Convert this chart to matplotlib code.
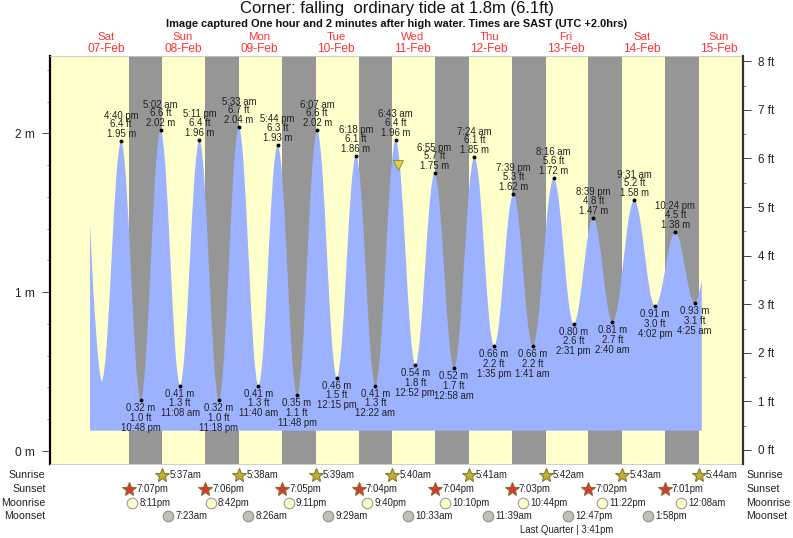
import matplotlib
matplotlib.use("Agg")
import matplotlib.pyplot as plt
from matplotlib.patches import PathPatch
from matplotlib.path import Path
from matplotlib.transforms import blended_transform_factory

plt.rcParams['font.family'] = ['Liberation Sans', 'DejaVu Sans']

W, H = 793, 538
TITLE = "Corner: falling  ordinary tide at 1.8m (6.1ft)"
SUBTITLE = "Image captured One hour and 2 minutes after high water. Times are SAST (UTC +2.0hrs)"
day_names = ["Sat", "Sun", "Mon", "Tue", "Wed", "Thu", "Fri", "Sat", "Sun"]
day_dates = ["07-Feb", "08-Feb", "09-Feb", "10-Feb", "11-Feb", "12-Feb", "13-Feb", "14-Feb", "15-Feb"]

# hours since midnight on 07-Feb, height in metres
curve_hours = [6.9, 7.9, 8.7, 9.5, 10.0, 10.56,
    12.09, 13.62, 15.14, 16.67, 18.2, 19.74, 21.27, 22.8, 24.36, 25.92, 27.47, 29.03,
    30.56, 32.08, 33.61, 35.13, 36.64, 38.16, 39.67, 41.18, 42.71, 44.24, 45.77, 47.3,
    48.86, 50.43, 51.99, 53.55, 55.08, 56.61, 58.14, 59.67, 61.19, 62.7, 64.22, 65.73,
    67.25, 68.77, 70.28, 71.8, 73.38, 74.96, 76.54, 78.12, 79.65, 81.19, 82.72, 84.25,
    85.76, 87.28, 88.79, 90.3, 91.82, 93.34, 94.85, 96.37, 97.96, 99.55, 101.13, 102.72,
    104.26, 105.8, 107.33, 108.87, 110.38, 111.9, 113.41, 114.92, 116.43, 117.95, 119.46, 120.97,
    122.58, 124.19, 125.79, 127.4, 128.95, 130.49, 132.04, 133.58, 135.1, 136.62, 138.13, 139.65,
    141.16, 142.67, 144.17, 145.68, 147.33, 148.98, 150.62, 152.27, 153.83, 155.4, 156.96, 158.52,
    160.05, 161.59, 163.12, 164.65, 166.16, 167.66, 169.17, 170.67, 172.38, 174.1, 175.81, 177.52,
    179.15, 180.78, 182.4, 184.03, 185.62, 187.22, 188.81, 190.4, 191.9, 193.41, 194.92, 196.42,
    197.0, 197.9, 198.7]
curve_m = [1.43, 1.03, 0.78, 0.58, 0.49, 0.44,
    0.66, 1.195, 1.73, 1.95, 1.71, 1.135, 0.56, 0.32, 0.57, 1.17, 1.77, 2.02,
    1.785, 1.215, 0.645, 0.41, 0.64, 1.185, 1.73, 1.96, 1.72, 1.14, 0.56, 0.32,
    0.57, 1.18, 1.79, 2.04, 1.80, 1.225, 0.65, 0.41, 0.63, 1.17, 1.71, 1.93,
    1.70, 1.14, 0.58, 0.35, 0.59, 1.185, 1.78, 2.02, 1.79, 1.24, 0.69, 0.46,
    0.66, 1.16, 1.66, 1.86, 1.65, 1.135, 0.62, 0.41, 0.64, 1.185, 1.73, 1.96,
    1.75, 1.25, 0.75, 0.54, 0.72, 1.145, 1.57, 1.75, 1.57, 1.135, 0.70, 0.52,
    0.71, 1.185, 1.66, 1.85, 1.68, 1.255, 0.83, 0.66, 0.80, 1.14, 1.48, 1.62,
    1.48, 1.14, 0.80, 0.66, 0.815, 1.19, 1.565, 1.72, 1.585, 1.26, 0.935, 0.80,
    0.90, 1.135, 1.37, 1.47, 1.37, 1.14, 0.91, 0.81, 0.92, 1.195, 1.47, 1.58,
    1.48, 1.245, 1.01, 0.91, 0.98, 1.145, 1.31, 1.38, 1.31, 1.155, 1.00, 0.93,
    0.94, 1.00, 1.07]
base_level_m = 0.128

high_hours = [16.67, 29.03, 41.18, 53.55, 65.73, 78.12, 90.3, 102.72, 114.92, 127.4, 139.65, 152.27, 164.65, 177.52, 190.4]
high_m = [1.95, 2.02, 1.96, 2.04, 1.93, 2.02, 1.86, 1.96, 1.75, 1.85, 1.62, 1.72, 1.47, 1.58, 1.38]
high_ft = ["6.4", "6.6", "6.4", "6.7", "6.3", "6.6", "6.1", "6.4", "5.7", "6.1", "5.3", "5.6", "4.8", "5.2", "4.5"]
high_times = ["4:40 pm", "5:02 am", "5:11 pm", "5:33 am", "5:44 pm", "6:07 am", "6:18 pm", "6:43 am",
              "6:55 pm", "7:24 am", "7:39 pm", "8:16 am", "8:39 pm", "9:31 am", "10:24 pm"]

low_hours = [22.8, 35.13, 47.3, 59.67, 71.8, 84.25, 96.37, 108.87, 120.97, 133.58, 145.68, 158.52, 170.67, 184.03, 196.42]
low_m = [0.32, 0.41, 0.32, 0.41, 0.35, 0.46, 0.41, 0.54, 0.52, 0.66, 0.66, 0.80, 0.81, 0.91, 0.93]
low_ft = ["1.0", "1.3", "1.0", "1.3", "1.1", "1.5", "1.3", "1.8", "1.7", "2.2", "2.2", "2.6", "2.7", "3.0", "3.1"]
low_times = ["10:48 pm", "11:08 am", "11:18 pm", "11:40 am", "11:48 pm", "12:15 pm", "12:22 am", "12:52 pm",
             "12:58 am", "1:35 pm", "1:41 am", "2:31 pm", "2:40 am", "4:02 pm", "4:25 am"]

sunrise_hours = [29.62, 53.63, 77.65, 101.67, 125.68, 149.7, 173.72, 197.73]
sunrise_labels = ["5:37am", "5:38am", "5:39am", "5:40am", "5:41am", "5:42am", "5:43am", "5:44am"]
sunset_hours = [19.12, 43.1, 67.08, 91.07, 115.07, 139.05, 163.03, 187.02]
sunset_labels = ["7:07pm", "7:06pm", "7:05pm", "7:04pm", "7:04pm", "7:03pm", "7:02pm", "7:01pm"]
moonrise_hours = [20.18, 44.7, 69.18, 93.67, 118.17, 142.73, 167.37, 192.13]
moonrise_labels = ["8:11pm", "8:42pm", "9:11pm", "9:40pm", "10:10pm", "10:44pm", "11:22pm", "12:08am"]
moonset_hours = [31.38, 56.43, 81.48, 106.55, 131.65, 156.78, 181.97]
moonset_labels = ["7:23am", "8:26am", "9:29am", "10:33am", "11:39am", "12:47pm", "1:58pm"]
now_hours, now_m = 103.6, 1.80

YELLOW, GRAY, BLUE = "#FFFFCC", "#969696", "#9DB2FF"
TXT = "#222222"
# pixel frame of the plot
L, R, T, B = 49.5, 743.0, 56.0, 464.0
fig = plt.figure(figsize=(W / 100, H / 100), dpi=100, facecolor="white")
ax = fig.add_axes([L / W, 1 - B / H, (R - L) / W, (B - T) / H])
ax.set_facecolor(YELLOW)
ax.set_xlim((L - 68.0) / 3.19, (R - 68.0) / 3.19)
ax.set_ylim((451 - B) / 158.8, (451 - T) / 158.8)

for s, e in zip(sunset_hours, sunrise_hours):
    ax.axvspan(s, e, color=GRAY, lw=0, zorder=1)


def smooth_fill_path(ts, hs, base):
    """Bezier outline through the read points, flat at each turning point."""
    n = len(ts)
    slopes = []
    for i in range(n):
        a, b = max(i - 1, 0), min(i + 1, n - 1)
        m = (hs[b] - hs[a]) / (ts[b] - ts[a])
        if 0 < i < n - 1 and (hs[i] - hs[a]) * (hs[b] - hs[i]) <= 0:
            m = 0.0
        slopes.append(m)
    verts = [(ts[0], base), (ts[0], hs[0])]
    codes = [Path.MOVETO, Path.LINETO]
    for i in range(n - 1):
        d = (ts[i + 1] - ts[i]) / 3
        verts += [(ts[i] + d, hs[i] + slopes[i] * d),
                  (ts[i + 1] - d, hs[i + 1] - slopes[i + 1] * d),
                  (ts[i + 1], hs[i + 1])]
        codes += [Path.CURVE4] * 3
    verts += [(ts[-1], base), (ts[0], base)]
    codes += [Path.LINETO, Path.CLOSEPOLY]
    return Path(verts, codes)


ax.add_patch(PathPatch(smooth_fill_path(curve_hours, curve_m, base_level_m), fc=BLUE, lw=0, zorder=2))

ax.plot(high_hours, high_m, "o", color="black", ms=2.8, mew=0, zorder=4)
ax.plot(low_hours, low_m, "o", color="black", ms=2.8, mew=0, zorder=4)
ax.plot([now_hours], [now_m], "v", color="#DDD24A", mec="#8C8430", mew=0.6, ms=7, zorder=4)

LAB = 6.9
def lab(x, y, s, dy):
    ax.annotate(s, (x, y), xytext=(0, dy * 0.72), textcoords="offset points", ha="center",
                va="center", fontsize=LAB, color=TXT, zorder=5, annotation_clip=False)

for x, y, f, t in zip(high_hours, high_m, high_ft, high_times):
    lab(x, y, f"{y:.2f} m", 7)
    lab(x, y, f"{f} ft", 17)
    lab(x, y, t, 25.5)
for x, y, f, t in zip(low_hours, low_m, low_ft, low_times):
    lab(x, y, f"{y:.2f} m", -8)
    lab(x, y, f"{f} ft", -17.5)
    lab(x, y, t, -27.5)

# left axis
ax.set_xticks([])
ax.set_yticks([0, 1, 2])
ax.set_yticklabels(["0 m", "1 m", "2 m"], fontsize=8.6, color=TXT)
ax.set_yticks([v / 5 for v in range(0, 13)], minor=True)
ax.tick_params(axis="y", which="major", length=5.5, width=0.7, color="#444444", pad=5)
ax.tick_params(axis="y", which="minor", length=2.5, width=0.6, color="#666666")
ax.spines["left"].set_linewidth(1.6)
ax.spines["left"].set_color("black")
for k in ("top", "bottom"):
    ax.spines[k].set_color("#C8C8C0")
    ax.spines[k].set_linewidth(0.6)
ax.spines["right"].set_visible(False)

# right axis, feet
axr = ax.twinx()
axr.set_ylim((450 - B) / 48.6, (450 - T) / 48.6)
axr.set_yticks(range(0, 9))
axr.set_yticklabels([f"{i} ft" for i in range(0, 9)], fontsize=8.4, color=TXT)
axr.set_yticks([i + 0.5 for i in range(0, 8)], minor=True)
axr.tick_params(axis="y", which="major", length=5.5, width=0.7, color="#444444", pad=5)
axr.tick_params(axis="y", which="minor", length=2.5, width=0.6, color="#666666")
for k in ("left", "top", "bottom"):
    axr.spines[k].set_visible(False)
axr.spines["right"].set_linewidth(1.6)
axr.spines["right"].set_color("#333333")

def ftext(px, py, s, **kw):
    fig.text(px / W, 1 - py / H, s, va="center", **kw)

ftext(396.5, 8, TITLE, ha="center", fontsize=12, color="#111111")
ftext(396.5, 24, SUBTITLE, ha="center", fontsize=7.9, fontweight="bold", color="#111111")

tr = blended_transform_factory(ax.transData, fig.transFigure)
for i, (n, d) in enumerate(zip(day_names, day_dates)):
    x = 12 + 24 * i
    fig.text(x, 1 - 36.5 / H, n, transform=tr, ha="center", va="center", fontsize=8.2, color="#FF3333")
    fig.text(x, 1 - 48.5 / H, d, transform=tr, ha="center", va="center", fontsize=8.6, color="#FF3333")

rows = [("Sunrise", 474.5, sunrise_hours, sunrise_labels, "*", "#BDB030", "#8A7A30", 10.5),
        ("Sunset", 488.5, sunset_hours, sunset_labels, "*", "#D8392B", "#8A6A30", 10.5),
        ("Moonrise", 502.5, moonrise_hours, moonrise_labels, "o", "#FFFFCC", "#999999", 7.6),
        ("Moonset", 516, moonset_hours, moonset_labels, "o", "#C4C0B6", "#8E8E8E", 7.6)]
for name, py, hours, labels, m, fc, ec, ms in rows:
    ftext(45.5, py, name, ha="right", fontsize=7.7, color=TXT)
    ftext(746.5, py, name, ha="left", fontsize=7.7, color=TXT)
    y = 1 - py / H
    ax.plot(hours, [y] * len(hours), m, transform=tr, mfc=fc, mec=ec, mew=0.8, ms=ms,
            clip_on=False, zorder=6, ls="none")
    for x, s in zip(hours, labels):
        ax.annotate(s, (x, y), xycoords=tr, xytext=(5.2, 0), textcoords="offset points",
                    ha="left", va="center", fontsize=6.9, color=TXT, annotation_clip=False)

ftext(566.5, 530, "Last Quarter | 3:41pm", ha="center", fontsize=6.9, color=TXT)

fig.savefig("out.png", dpi=100)
